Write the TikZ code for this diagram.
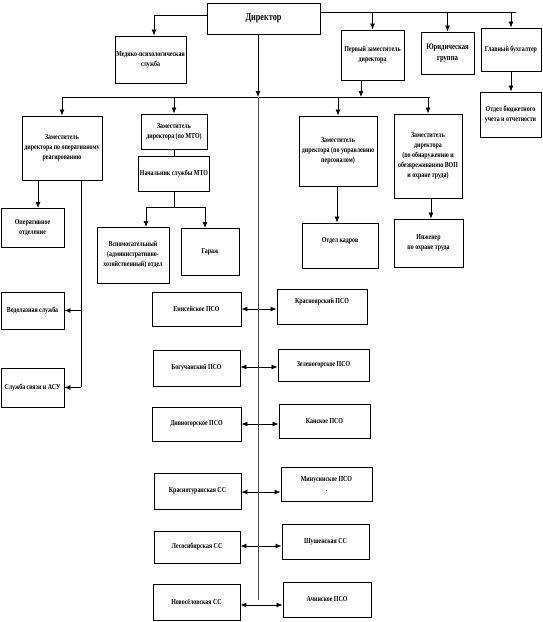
\documentclass[tikz,border=0pt]{standalone}
\usepackage{fontspec}
\setmainfont{Liberation Serif}[FakeStretch=0.78]
\usepackage{tikz}
\usetikzlibrary{arrows.meta, positioning, calc}

\tikzset{
  unit/.style={draw, line width=0.9pt, align=center, inner sep=1pt,
    font=\fontsize{7.6}{10}\selectfont\bfseries},
  link/.style={-{Latex[length=6pt,width=5pt]}, line width=0.8pt},
  both/.style={{Latex[length=6pt,width=5pt]}-{Latex[length=6pt,width=5pt]}, line width=0.8pt},
  trunk/.style={line width=0.7pt, black!70}
}

\begin{document}
\begin{tikzpicture}[x=1pt, y=-1pt]
\useasboundingbox (0,0) rectangle (543,622);

% top level
\node[unit, minimum width=113, minimum height=31, font=\fontsize{10.5}{12}\selectfont\bfseries] (dir) at (263.5,18.5) {Директор};
\node[unit, minimum width=71, minimum height=47] (med) at (150.5,59.5) {Медико-психологическая\\служба};
\node[unit, minimum width=63, minimum height=50] (first) at (372.5,55) {Первый заместитель\\директора};
\node[unit, minimum width=53, minimum height=42, font=\fontsize{8.5}{10.5}\selectfont\bfseries] (legal) at (447.5,53) {Юридическая\\группа};
\node[unit, minimum width=60, minimum height=43] (acc) at (511,49.5) {Главный бухгалтер};
\node[unit, minimum width=61, minimum height=45] (budget) at (510.5,114.5) {Отдел бюджетного\\учета и отчетности};

\coordinate (dtop) at (320,12);
\coordinate (dleft) at (207,15);
\coordinate (dbot) at (258,34);
\coordinate (bus) at (258,97);

\draw[line width=0.8pt] (dtop) -- (516,12);
\draw[link] (dtop -| first.north) -- (first.north);
\draw[link] (dtop -| legal.north) -- (legal.north);
\draw[link] (dtop -| acc.north) -- (acc.north);
\draw[link] (dleft) -| ([xshift=3.5pt]med.north);
\draw[link] (acc.south) -- (acc.south |- budget.north);

% deputies
\node[unit, minimum width=80, minimum height=64] (opdep) at (62,148) {Заместитель\\директора по оперативному\\реагированию};
\node[unit, minimum width=66, minimum height=35] (mto) at (174,131.5) {Заместитель\\директора (по МТО)};
\node[unit, minimum width=66, minimum height=35] (mtochief) at (174,173.5) {Начальник службы МТО};
\node[unit, minimum width=78, minimum height=70] (pers) at (338,151) {Заместитель\\директора (по управлению\\персоналом)};
\node[unit, minimum width=68, minimum height=84] (detect) at (428,156) {Заместитель\\директора\\(по обнаружению и\\обезвреживанию ВОП\\и охране труда)};

\draw[line width=0.8pt] (63,97) -- (430,97);
\draw[link] (dbot) -- (bus);
\draw[link] ([xshift=-11.5pt]first.south) -- (361,97);
\draw[link] (opdep.north |- bus) -- (opdep.north);
\draw[link] (mto.north |- bus) -- (mto.north);
\draw[link] (pers.north |- bus) -- (pers.north);
\draw[link] (detect.north |- bus) -- (detect.north);
\draw[line width=0.8pt] (mto) -- (mtochief);

% services
\node[unit, minimum width=63, minimum height=39] (oper) at (32.5,227.5) {Оперативное\\отделение};
\node[unit, minimum width=72, minimum height=56] (aux) at (133,255) {Вспомогательный\\(административно-\\хозяйственный) отдел};
\node[unit, minimum width=58, minimum height=47] (garage) at (210,251.5) {Гараж};
\node[unit, minimum width=76, minimum height=45, text depth=11] (kadry) at (340,245.5) {Отдел кадров};
\node[unit, minimum width=69, minimum height=48] (eng) at (428.5,243) {Инженер\\по охране труда};
\node[unit, minimum width=63, minimum height=37] (dive) at (32.5,310.5) {Водолазная служба};
\node[unit, minimum width=63, minimum height=39] (comm) at (32.5,387.5) {Служба связи и АСУ};

\draw[link] (38,180) -- (38,208);
\draw[line width=0.8pt] (mtochief.south) -- (174,207);
\draw[line width=0.8pt] (146,207) -- (205,207);
\draw[link] (146,207) -- (146,227);
\draw[link] (205,207) -- (205,228);
\draw[link] ([xshift=-1pt]pers.south) -- ([xshift=-3pt]kadry.north);
\draw[link] ([xshift=3pt]detect.south) -- ([xshift=2.5pt]eng.north);
\draw[line width=0.8pt] (81,180) -- (81,387);
\draw[link] (81,310.5) -- (dive.east);
\draw[link] (81,387.5) -- (comm.east);

% branches
\node[unit, minimum width=89, minimum height=34] (l1) at (196.5,309) {Енисейское ПСО};
\node[unit, minimum width=87, minimum height=36] (l2) at (196.5,368) {Богучанский ПСО};
\node[unit, minimum width=89, minimum height=34] (l3) at (196.5,424) {Дивногорское ПСО};
\node[unit, minimum width=87, minimum height=36] (l4) at (197.5,491) {Краснотуранская СС};
\node[unit, minimum width=86, minimum height=32] (l5) at (197,547) {Лесосибирская СС};
\node[unit, minimum width=87, minimum height=36] (l6) at (196.5,602) {Новосёловская СС};
\node[unit, minimum width=90, minimum height=35, text depth=11] (r1) at (322,306.5) {Красноярский ПСО};
\node[unit, minimum width=91, minimum height=32] (r2) at (323.5,365) {Зеленогорское ПСО};
\node[unit, minimum width=91, minimum height=34] (r3) at (324.5,421) {Канское ПСО};
\node[unit, minimum width=91, minimum height=34] (r4) at (326.5,484) {Минусинское ПСО\\.};
\node[unit, minimum width=87, minimum height=35] (r5) at (325.5,541.5) {Шушенская СС};
\node[unit, minimum width=88, minimum height=35] (r6) at (327,599.5) {Ачинское ПСО};

\draw[trunk] (bus) -- (258,600);
\draw[both] (l1.east) -- (l1.east -| r1.west);
\draw[both] ([yshift=1pt]l2.east) -- ([yshift=1pt]l2.east -| r2.west);
\draw[both] (l3.east) -- (l3.east -| r3.west);
\draw[both] ([yshift=-1pt]l4.east) -- ([yshift=-1pt]l4.east -| r4.west);
\draw[both] ([yshift=1pt]l5.east) -- ([yshift=1pt]l5.east -| r5.west);
\draw[both] ([yshift=-3pt]l6.east) -- ([yshift=-3pt]l6.east -| r6.west);
\end{tikzpicture}
\end{document}
